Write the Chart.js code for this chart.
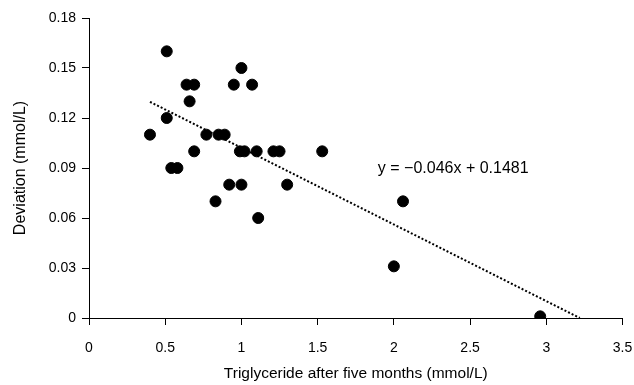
<!DOCTYPE html>
<html>
<head>
<meta charset="utf-8">
<script src="https://cdn.jsdelivr.net/npm/chart.js@4/dist/chart.umd.min.js"></script>
<style>
  html, body { margin: 0; padding: 0; background: #fff; }
  #wrap { width: 634px; height: 385px; }
</style>
</head>
<body>
<div id="wrap"><canvas id="scatter" width="634" height="385"></canvas></div>
<script>
// points
var TG_X = [0.51, 1.0, 0.64, 0.69, 0.95, 1.07, 0.66, 0.51, 0.4, 0.77, 0.85, 0.89, 0.69, 0.99, 1.02,
            1.1, 1.21, 1.25, 1.53, 0.54, 0.58, 0.92, 1.0, 1.3, 0.83, 1.11, 2.06, 2.0, 2.96];
var DEV_Y = [0.16, 0.15, 0.14, 0.14, 0.14, 0.14, 0.13, 0.12, 0.11, 0.11, 0.11, 0.11, 0.1, 0.1, 0.1,
             0.1, 0.1, 0.1, 0.1, 0.09, 0.09, 0.08, 0.08, 0.08, 0.07, 0.06, 0.07, 0.031, 0.001];

// trendline ends (y = -0.046x + 0.1481)
var TREND_X = [0.4, 3.22];
var TREND_Y = [0.1297, 0.0];
var TREND_LABEL = 'y = \u22120.046x + 0.1481';

var X_TICKS = [0, 0.5, 1, 1.5, 2, 2.5, 3, 3.5];
var Y_TICKS = [0, 0.03, 0.06, 0.09, 0.12, 0.15, 0.18];

var FONT = 'Liberation Sans, Arial, sans-serif';

var pts = TG_X.map(function(x, i) { return {x: x, y: DEV_Y[i]}; });
var trend = TREND_X.map(function(x, i) { return {x: x, y: TREND_Y[i]}; });

var eqLabel = {
  id: 'eqLabel',
  afterDatasetsDraw: function(chart) {
    var ctx = chart.ctx;
    var xs = chart.scales.x, ys = chart.scales.y;
    ctx.save();
    ctx.font = '16px ' + FONT;
    ctx.fillStyle = '#000';
    ctx.textAlign = 'left';
    ctx.textBaseline = 'alphabetic';
    ctx.fillText(TREND_LABEL, xs.getPixelForValue(1.895), ys.getPixelForValue(0.0872));
    ctx.restore();
  }
};

new Chart(document.getElementById('scatter'), {
  type: 'scatter',
  data: {
    datasets: [
      {
        data: pts,
        backgroundColor: '#000',
        borderColor: '#000',
        pointRadius: 5.5,
        pointHoverRadius: 5.5
      },
      {
        type: 'line',
        data: trend,
        borderColor: '#000',
        borderWidth: 2,
        borderDash: [2, 2],
        pointRadius: 0,
        fill: false
      }
    ]
  },
  options: {
    responsive: false,
    animation: false,
    layout: { padding: { left: 0, right: 11.5, top: 18, bottom: 0 } },
    plugins: { legend: { display: false }, tooltip: { enabled: false } },
    scales: {
      x: {
        type: 'linear',
        min: 0, max: 3.5,
        afterBuildTicks: function(s) { s.ticks = X_TICKS.map(function(v) { return {value: v}; }); },
        afterFit: function(s) { s.height = 67; s.paddingLeft = 0; s.paddingRight = 0; },
        ticks: {
          color: '#000', font: { family: FONT, size: 14 }, padding: 15,
          maxRotation: 0, autoSkip: false,
          callback: function(v) { return String(v); }
        },
        grid: { drawOnChartArea: false, drawTicks: true, tickLength: 7, color: '#000' },
        border: { color: '#000', width: 1 },
        title: { display: true, text: 'Triglyceride after five months (mmol/L)', color: '#000',
                 font: { family: FONT, size: 15.5 }, padding: { top: 4, bottom: 2 } }
      },
      y: {
        min: 0, max: 0.18,
        afterBuildTicks: function(s) { s.ticks = Y_TICKS.map(function(v) { return {value: v}; }); },
        afterFit: function(s) { s.width = 89; s.paddingTop = 0; s.paddingBottom = 0; },
        ticks: {
          color: '#000', font: { family: FONT, size: 14 }, padding: 6, autoSkip: false,
          callback: function(v) { return v === 0 ? '0' : v.toFixed(2); }
        },
        grid: { drawOnChartArea: false, drawTicks: true, tickLength: 7, color: '#000' },
        border: { color: '#000', width: 1 },
        title: { display: true, text: 'Deviation (mmol/L)', color: '#000',
                 font: { family: FONT, size: 16 }, padding: { top: 11, bottom: 4 } }
      }
    }
  },
  plugins: [eqLabel]
});
</script>
</body>
</html>
